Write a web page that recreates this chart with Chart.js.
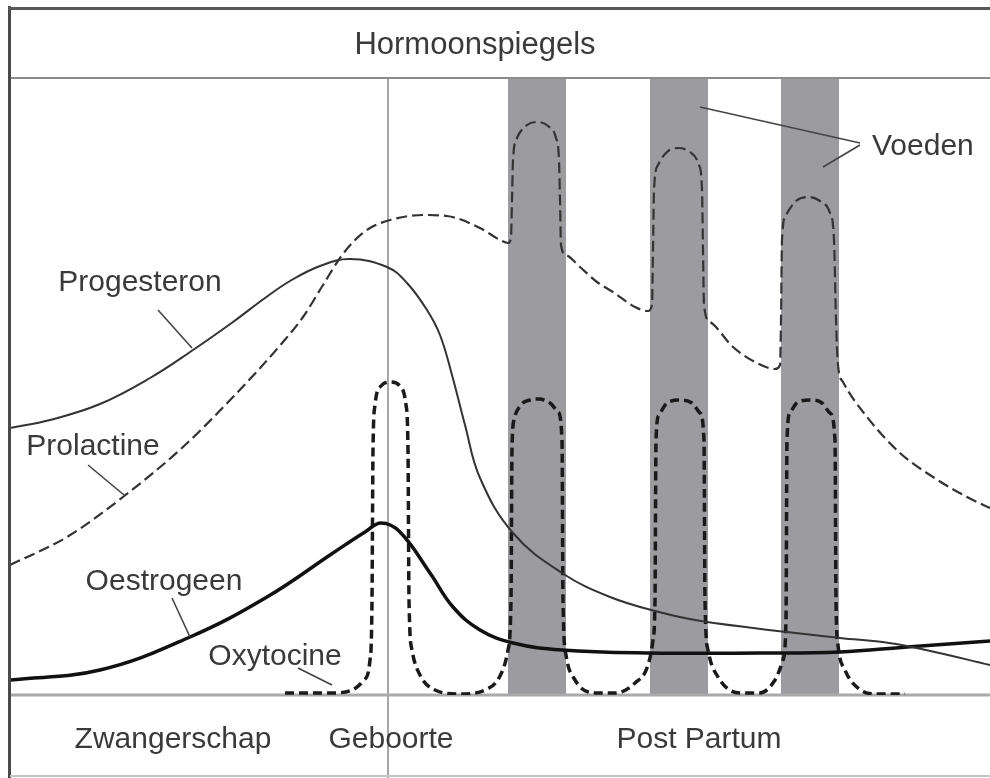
<!DOCTYPE html>
<html><head><meta charset="utf-8">
<script src="https://cdn.jsdelivr.net/npm/chart.js@4/dist/chart.umd.min.js"></script>
<style>html,body{margin:0;padding:0;background:#fff;overflow:hidden}canvas{display:block}</style>
</head><body>
<canvas id="c" width="990" height="778" style="width:990px;height:778px"></canvas>
<script>
// ---- data (arbitrary time units on x, arbitrary hormone level on y) ----
const title = 'Hormoonspiegels';
const seriesNames = ['Progesteron', 'Prolactine', 'Oestrogeen', 'Oxytocine'];
const phaseLabels = ['Zwangerschap', 'Geboorte', 'Post Partum'];
const phaseX = [16.3, 38.1, 68.9];
const birthX = 37.8;
const feedLabel = 'Voeden';
const feedStart = [49.8, 64.0, 77.1];
const feedEnd = [55.6, 69.8, 82.9];

const progesteronX = [0,4,9,14,18.3,22.3,25.5,28,31,34,37.7,39.7,41.7,43,44.2,45.5,47,50.3,55.2,60,64.9,69.1,77.7,83,87.9,91.6,98];
const progesteronY = [26.7,27.5,29.1,31.7,34.5,37.3,39.7,41.4,42.9,43.6,42.8,41.2,38.5,36,32,27,21.7,16.2,12.2,9.8,8.3,7.4,6.3,5.7,5.2,4.5,3.0];

const prolactineX = [0,5.7,11.3,17.3,22.3,27.3,29.3,31.3,33,34.5,36,38,41.3,43.7,47,49,49.8,50.1,50.2,50.3,50.7,51.7,52.7,53.8,54.6,54.9,55,55.1,55.6,57,58.7,60.3,62.5,63.8,64.2,64.3,64.4,64.8,65.7,66.8,68,68.9,69.2,69.3,69.4,70,72.3,74.5,76.5,77,77.1,77.2,77.6,78.6,79.8,81,82,82.4,82.6,82.8,83.3,85.7,89,92.3,95.7,98];
const prolactineY = [13,15.8,19.8,24.8,29.8,35.3,37.8,41,43.7,45.5,46.7,47.5,48,47.9,46.7,45.5,45.2,45.7,49.5,53.5,55.7,57,57.3,56.9,55.7,53.5,49.5,45,44,42.8,41.3,40.3,38.8,38.4,39,44.5,50.5,53,54.3,54.7,54.3,53,50.5,44.5,39,37.3,34.8,33.3,32.6,33,37.5,45.5,48,49.4,49.8,49.4,48.2,45.5,37.5,33,31.3,27.8,24.2,21.8,19.8,18.7];

const oestrogeenX = [0,9,18,25.7,32.3,35.5,37.1,39,42,44.3,47,50.3,55.2,64,75,83,89.7,98];
const oestrogeenY = [1.5,2.5,5.8,9.8,14.2,16.3,17.2,16.3,12.2,8.8,6.5,5.2,4.5,4.2,4.2,4.3,4.8,5.4];

const oxytocineX = [27.5,32,34.2,35.4,36,36.2,36.3,36.5,37.1,38.1,39.1,39.6,39.8,39.9,40.2,41,42.5,45,47.5,49,49.8,50.1,50.2,50.4,51,52,52.9,54,54.8,55.2,55.3,55.6,56.5,58.5,60.5,62.5,63.8,64.3,64.5,64.6,64.9,65.7,67,68.2,69,69.4,69.5,69.8,70.8,73,75,76.5,77.3,77.6,77.7,78,78.8,80,81.2,82,82.5,82.6,82.8,83.5,84.8,86.5,89.5];
const oxytocineY = [0.2,0.2,0.5,1.5,3.5,9.5,24.5,29,30.9,31.3,30.8,29,24.5,9.5,4.5,2,0.5,0.1,0.5,1.9,4.5,9.5,24.5,27.5,28.9,29.5,29.6,29.2,28.3,25.5,9.5,4,1.5,0.2,0.2,1.2,3,5.5,9.5,25.5,28,29.2,29.5,29.2,28.2,25.5,9.5,4.5,1.8,0.2,0.2,1.5,3.5,7.5,25.5,28.2,29.3,29.5,29.2,28.2,25.5,9.5,5,2.5,0.7,0.1,0.1];

// annotation anchors in data units
const seriesLabelPos = [[13,41.2],[8.3,24.8],[15.4,11.3],[26.5,3.8]];
const seriesLeaders = [[[14.8,38.5],[18.2,34.7]],[[7.8,23],[11.4,20]],[[16.2,9.7],[18,5.8]],[[28.8,2.7],[32.2,1]]];
const feedLabelPos = [86.2,54.8];
const feedLeaders = [[[69,58.8],[85,55.2]],[[81.3,52.8],[85,55]]];

const pts = (xs, ys) => xs.map((x, i) => ({x, y: ys[i]}));

const FONT = '"Liberation Sans", Arial, sans-serif';
const TEXT = '#3a3a3a';

const framePlugin = {
  id: 'frame',
  beforeDraw(chart) {
    const ctx = chart.ctx;
    ctx.save(); ctx.fillStyle = '#fff'; ctx.fillRect(0, 0, chart.width, chart.height); ctx.restore();
  },
  beforeDatasetsDraw(chart) {
    const {ctx, chartArea: a, scales: {x}} = chart;
    ctx.save();
    ctx.fillStyle = '#9c9ca0';
    feedStart.forEach((s, i) => {
      const x0 = x.getPixelForValue(s), x1 = x.getPixelForValue(feedEnd[i]);
      ctx.fillRect(x0, a.top, x1 - x0, a.bottom - a.top);
    });
    const bx = x.getPixelForValue(birthX);
    ctx.strokeStyle = '#8a8a8a'; ctx.lineWidth = 1.5;
    ctx.beginPath(); ctx.moveTo(bx, a.top); ctx.lineTo(bx, chart.height); ctx.stroke();
    ctx.strokeStyle = '#aaaaaa'; ctx.lineWidth = 3;
    ctx.beginPath(); ctx.moveTo(a.left, a.bottom); ctx.lineTo(a.right, a.bottom); ctx.stroke();
    ctx.strokeStyle = '#8c8c8c'; ctx.lineWidth = 2;
    ctx.beginPath(); ctx.moveTo(a.left, a.top); ctx.lineTo(a.right, a.top); ctx.stroke();
    ctx.restore();
  },
  afterDraw(chart) {
    const {ctx, chartArea: a, scales: {x, y}} = chart;
    ctx.save();
    // outer frame
    ctx.strokeStyle = '#4a4a4a'; ctx.lineWidth = 3;
    ctx.beginPath(); ctx.moveTo(9.5, 6); ctx.lineTo(9.5, chart.height); ctx.stroke();
    ctx.strokeStyle = '#585858';
    ctx.beginPath(); ctx.moveTo(8, 8.5); ctx.lineTo(chart.width, 8.5); ctx.stroke();
    ctx.strokeStyle = '#c4c4c4'; ctx.lineWidth = 2;
    ctx.beginPath(); ctx.moveTo(10, chart.height - 2); ctx.lineTo(chart.width, chart.height - 2); ctx.stroke();

    ctx.fillStyle = TEXT; ctx.textAlign = 'center'; ctx.textBaseline = 'middle';
    ctx.font = '31px ' + FONT;
    ctx.fillText(title, (a.left + a.right) / 2 - 25, (8 + a.top) / 2 + 2);

    ctx.font = '30px ' + FONT;
    phaseLabels.forEach((t, i) => ctx.fillText(t, x.getPixelForValue(phaseX[i]), a.bottom + 45));

    seriesNames.forEach((t, i) => {
      ctx.fillText(t, x.getPixelForValue(seriesLabelPos[i][0]), y.getPixelForValue(seriesLabelPos[i][1]));
    });
    ctx.textAlign = 'left';
    ctx.fillText(feedLabel, x.getPixelForValue(feedLabelPos[0]), y.getPixelForValue(feedLabelPos[1]));

    ctx.strokeStyle = '#444'; ctx.lineWidth = 1.6;
    seriesLeaders.concat(feedLeaders).forEach(([p, q]) => {
      ctx.beginPath();
      ctx.moveTo(x.getPixelForValue(p[0]), y.getPixelForValue(p[1]));
      ctx.lineTo(x.getPixelForValue(q[0]), y.getPixelForValue(q[1]));
      ctx.stroke();
    });
    ctx.restore();
  }
};

new Chart(document.getElementById('c'), {
  type: 'line',
  data: {
    datasets: [
      {label: seriesNames[0], data: pts(progesteronX, progesteronY), borderColor: '#333', borderWidth: 2, cubicInterpolationMode: 'default', tension: 0.4},
      {label: seriesNames[1], data: pts(prolactineX, prolactineY), borderColor: '#333', borderWidth: 2.2, borderDash: [11, 5]},
      {label: seriesNames[2], data: pts(oestrogeenX, oestrogeenY), borderColor: '#111', borderWidth: 3.5, cubicInterpolationMode: 'default', tension: 0.4},
      {label: seriesNames[3], data: pts(oxytocineX, oxytocineY), borderColor: '#1a1a1a', borderWidth: 3.5, borderDash: [9, 5]}
    ]
  },
  options: {
    responsive: false,
    animation: false,
    devicePixelRatio: 1,
    layout: {padding: {left: 10, right: 0, top: 78, bottom: 83}},
    elements: {point: {radius: 0}, line: {cubicInterpolationMode: 'monotone', fill: false}},
    scales: {
      x: {type: 'linear', min: 0, max: 98, display: false},
      y: {type: 'linear', min: 0, max: 61.7, display: false}
    },
    plugins: {legend: {display: false}, tooltip: {enabled: false}, title: {display: false}}
  },
  plugins: [framePlugin]
});
</script>
</body></html>
